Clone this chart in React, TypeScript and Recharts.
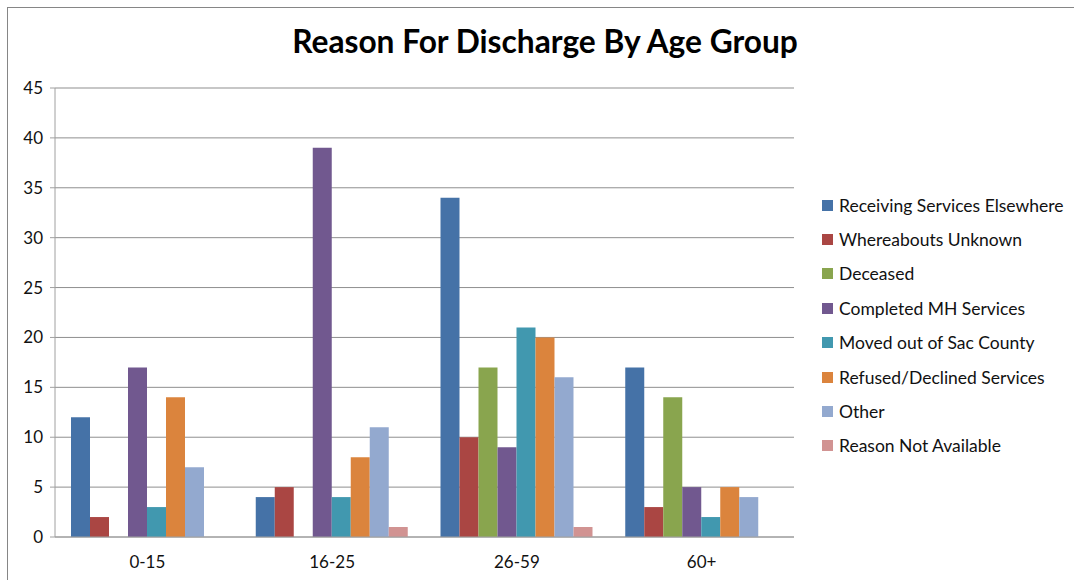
import { BarChart, Bar, XAxis, YAxis, CartesianGrid, Legend } from 'recharts';

const ageGroups = ['0-15', '16-25', '26-59', '60+'];

const receivingElsewhere = [12, 4, 34, 17];
const whereaboutsUnknown = [2, 5, 10, 3];
const deceased = [0, 0, 17, 14];
const completedMH = [17, 39, 9, 5];
const movedOut = [3, 4, 21, 2];
const refusedDeclined = [14, 8, 20, 5];
const other = [7, 11, 16, 4];
const notAvailable = [0, 1, 1, 0];

const yTicks = [0, 5, 10, 15, 20, 25, 30, 35, 40, 45];

const SERIES = [
  { key: 'Receiving Services Elsewhere', values: receivingElsewhere, color: '#4572A7' },
  { key: 'Whereabouts Unknown', values: whereaboutsUnknown, color: '#AA4643' },
  { key: 'Deceased', values: deceased, color: '#89A54E' },
  { key: 'Completed MH Services', values: completedMH, color: '#71588F' },
  { key: 'Moved out of Sac County', values: movedOut, color: '#4198AF' },
  { key: 'Refused/Declined Services', values: refusedDeclined, color: '#DB843D' },
  { key: 'Other', values: other, color: '#93A9CF' },
  { key: 'Reason Not Available', values: notAvailable, color: '#D19392' },
];

const data = ageGroups.map((group, i) => {
  const row: Record<string, string | number> = { group };
  SERIES.forEach((s) => {
    row[s.key] = s.values[i];
  });
  return row;
});

const FONT = 'Lato, "Open Sans", sans-serif';
const TICK_STYLE = { fill: '#111', fontSize: 17, fontFamily: FONT };

// legend keeps series order rather than the default alphabetical sort
function LegendList() {
  return (
    <div style={{ fontFamily: FONT, fontSize: 17.5, color: '#111' }}>
      {SERIES.map((s) => (
        <div key={s.key} style={{ display: 'flex', alignItems: 'center', height: 34.4 }}>
          <span
            style={{ width: 11, height: 11, background: s.color, display: 'inline-block', marginRight: 6 }}
          />
          <span>{s.key}</span>
        </div>
      ))}
    </div>
  );
}

export default function App() {
  return (
    <div style={{ position: 'absolute', left: 0, top: 0, width: 1074, height: 580, background: '#fff' }}>
      <div
        style={{
          position: 'absolute',
          left: 7,
          top: 7,
          width: 1080,
          height: 590,
          borderTop: '1.5px solid #868686',
          borderLeft: '1.5px solid #868686',
        }}
      />
      <div
        style={{
          position: 'absolute',
          left: 0,
          top: 22,
          width: 1090,
          textAlign: 'center',
          fontFamily: FONT,
          fontWeight: 700,
          fontSize: 31.7,
          color: '#000',
        }}
      >
        Reason For Discharge By Age Group
      </div>
      <BarChart
        width={1074}
        height={580}
        data={data}
        margin={{ top: 88, right: 280, bottom: 0, left: 0 }}
        barCategoryGap={16}
        barGap={0}
      >
        <CartesianGrid xAxisId="cat" vertical={false} stroke="#8f8f8f" />
        {/* numeric helper axis: only draws the tick marks between age groups */}
        <XAxis
          xAxisId="edges"
          type="number"
          domain={[0, 4]}
          ticks={[0, 1, 2, 3, 4]}
          height={0}
          axisLine={false}
          tickSize={6}
          tickLine={{ stroke: '#a0a0a0' }}
          tickFormatter={() => ''}
        />
        <XAxis
          xAxisId="cat"
          dataKey="group"
          height={43}
          tickLine={false}
          axisLine={{ stroke: '#a0a0a0' }}
          tickMargin={13}
          tick={TICK_STYLE}
        />
        <YAxis
          width={55}
          domain={[0, 45]}
          ticks={yTicks}
          axisLine={{ stroke: '#a0a0a0' }}
          tickLine={{ stroke: '#a0a0a0' }}
          tickSize={5}
          tickMargin={7}
          tick={TICK_STYLE}
        />
        <Legend
          layout="vertical"
          align="center"
          verticalAlign="middle"
          wrapperStyle={{ left: 822, top: 188, width: 252 }}
          content={<LegendList />}
        />
        {SERIES.map((s) => (
          <Bar key={s.key} xAxisId="cat" dataKey={s.key} fill={s.color} isAnimationActive={false} />
        ))}
      </BarChart>
    </div>
  );
}
